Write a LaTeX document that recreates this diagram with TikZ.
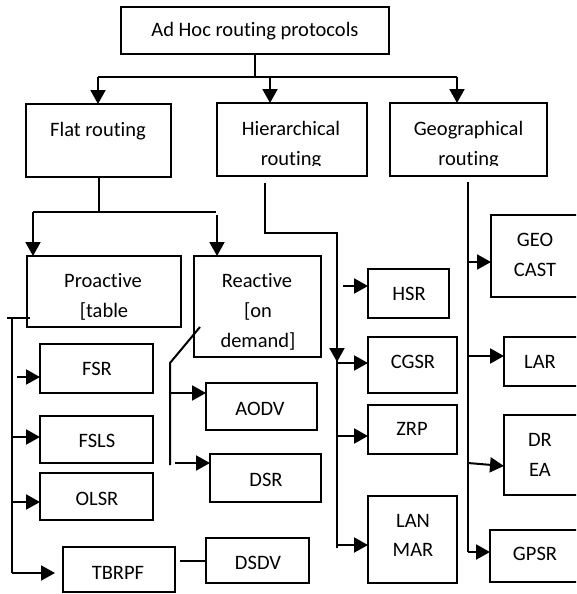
\documentclass[tikz,border=0pt]{standalone}
\usepackage{fontspec}
\setmainfont{Carlito}[Ligatures=NoCommon]
\usetikzlibrary{arrows.meta}
\begin{document}
\begin{tikzpicture}[x=1pt,y=-1pt,
  box/.style={draw,line width=1.8pt,inner sep=0pt,outer sep=0pt},
  lbl/.style={anchor=base,inner sep=0pt,font=\fontsize{20.5pt}{30pt}\selectfont},
  ln/.style={line width=2pt},
  arr/.style={line width=2pt,-{Triangle[length=14pt,width=15pt]}}]
\useasboundingbox (0,0) rectangle (576,594);
\clip (0,0) rectangle (576,594);
\fill[white] (0,0) rectangle (576,594);
% boxes
\node[box,minimum width=268pt,minimum height=47pt] (top) at (255,30.5) {};
\node[box,minimum width=145pt,minimum height=73pt] (flat) at (98.5,140.5) {};
\node[box,minimum width=150pt,minimum height=73pt] (hier) at (292,139.5) {};
\node[box,minimum width=157pt,minimum height=73pt] (geo) at (468.5,139.5) {};
\node[box,minimum width=154pt,minimum height=71pt] (pro) at (104,291.5) {};
\node[box,minimum width=127pt,minimum height=101pt] (rea) at (257.5,306.5) {};
\node[box,minimum width=113pt,minimum height=49pt] (fsr) at (96.5,368.5) {};
\node[box,minimum width=113pt,minimum height=47pt] (fsls) at (96.5,439.5) {};
\node[box,minimum width=113pt,minimum height=47pt] (olsr) at (96.5,496.5) {};
\node[box,minimum width=112pt,minimum height=45pt] (tbrpf) at (119,569.5) {};
\node[box,minimum width=103pt,minimum height=45pt] (dsdv) at (257.5,560.5) {};
\node[box,minimum width=111pt,minimum height=47pt] (aodv) at (261.5,406.5) {};
\node[box,minimum width=111pt,minimum height=48pt] (dsr) at (265.5,478) {};
\node[box,minimum width=81pt,minimum height=49pt] (hsr) at (408.5,293.5) {};
\node[box,minimum width=89pt,minimum height=56pt] (cgsr) at (412.5,365) {};
\node[box,minimum width=89pt,minimum height=49pt] (zrp) at (412.5,429.5) {};
\node[box,minimum width=89pt,minimum height=87pt] (lanmar) at (412.5,539.5) {};
\node[box,minimum width=99pt,minimum height=82pt] (geocast) at (540.5,256) {};
\node[box,minimum width=86pt,minimum height=49pt] (lar) at (547,361.5) {};
\node[box,minimum width=86pt,minimum height=80pt] (drea) at (547,455) {};
\node[box,minimum width=100pt,minimum height=52pt] (gpsr) at (540,556) {};
% labels
\node[lbl] (t-top) at (255,37) {Ad Hoc routing protocols};
\node[lbl] (t-flat) at (98,136) {Flat routing};
\node[lbl] (t-hier1) at (291,135) {Hierarchical};
\node[lbl] (t-geo1) at (468.5,135) {Geographical};
\begin{scope}
\clip (200,140) rectangle (560,165);
\node[lbl] (t-hier2) at (291,165) {routing};
\node[lbl] (t-geo2) at (468.5,165) {routing};
\end{scope}
\node[lbl] (t-pro1) at (103,287) {Proactive};
\node[lbl] (t-pro2) at (104,317) {[table};
\node[lbl] (t-rea1) at (257,287) {Reactive};
\node[lbl] (t-rea2) at (258,317) {[on};
\node[lbl] (t-rea3) at (258,347) {demand]};
\node[lbl] (t-fsr) at (97,375) {FSR};
\node[lbl] (t-fsls) at (97,447) {FSLS};
\node[lbl] (t-olsr) at (97,505) {OLSR};
\node[lbl] (t-tbrpf) at (118,579) {TBRPF};
\node[lbl] (t-dsdv) at (258,569) {DSDV};
\node[lbl] (t-aodv) at (260,415) {AODV};
\node[lbl] (t-dsr) at (266,486) {DSR};
\node[lbl] (t-hsr) at (409,300) {HSR};
\node[lbl] (t-cgsr) at (413,368) {CGSR};
\node[lbl] (t-zrp) at (412,435) {ZRP};
\node[lbl] (t-lan) at (413,527) {LAN};
\node[lbl] (t-mar) at (413,556) {MAR};
\node[lbl] (t-geo) at (535,246) {GEO};
\node[lbl] (t-cast) at (535,276) {CAST};
\node[lbl] (t-lar) at (540,368) {LAR};
\node[lbl] (t-dr) at (540,446) {DR};
\node[lbl] (t-ea) at (540,476) {EA};
\node[lbl] (t-gpsr) at (535,560) {GPSR};
% top level connectors
\coordinate (jL) at (98,77);
\coordinate (jM) at (270,77);
\coordinate (jR) at (457,77);
\draw[ln] (top.south) -- (top.south |- jL);
\draw[ln] (jL) -- (jR);
\draw[arr] (jL) -- (jL |- flat.north);
\draw[arr] (jM) -- (jM |- hier.north);
\draw[arr] (jR) -- (jR |- geo.north);
% flat routing
\coordinate (f1) at (33,212);
\coordinate (f2) at (216,212);
\coordinate (f3) at (217,215);
\draw[ln] (flat.south) -- (flat.south |- f1);
\draw[ln] (f1) -- (f2);
\draw[arr] (f1) -- (f1 |- pro.north);
\draw[arr] (f3) -- (f3 |- rea.north);
% proactive
\coordinate (p0) at (7,318);
\coordinate (p1) at (30,318);
\coordinate (pv) at (12,318);
\coordinate (pb) at (12,573);
\coordinate (a-fsr) at (17,377);
\coordinate (a-fsls) at (12,437);
\coordinate (a-olsr) at (12,502);
\draw[ln] (p0) -- (p1);
\draw[ln] (pv) -- (pb);
\draw[arr,shorten >=8pt] (pb) -- (pb -| tbrpf.west);
\draw[arr] (a-fsr) -- (a-fsr -| fsr.west);
\draw[arr] (a-fsls) -- (a-fsls -| fsls.west);
\draw[arr] (a-olsr) -- (a-olsr -| olsr.west);
\draw[ln,shorten <=5pt] (tbrpf.east |- dsdv.west) -- (dsdv.west);
% reactive
\coordinate (r0) at (200,327);
\coordinate (r1) at (170,363);
\coordinate (r2) at (170,465);
\coordinate (a-aodv) at (170,393);
\coordinate (a-dsr) at (175,463);
\draw[ln] (r0) -- (r1) -- (r2);
\draw[arr] (a-aodv) -- (a-aodv -| aodv.west);
\draw[arr] (a-dsr) -- (a-dsr -| dsr.west);
% hierarchical
\coordinate (h0) at (265,183);
\coordinate (h1) at (265,233);
\coordinate (h2) at (337,233);
\coordinate (h3) at (337,362);
\coordinate (h4) at (337,548);
\coordinate (a-hsr) at (343,286);
\coordinate (a-cgsr) at (337,363);
\coordinate (a-zrp) at (337,436);
\coordinate (a-lan) at (337,545);
\draw[ln] (h0) -- (h1) -- (h2) -- (h4);
\draw[arr] (h2) -- (h3);
\draw[arr] (a-hsr) -- (a-hsr -| hsr.west);
\draw[arr] (a-cgsr) -- (a-cgsr -| cgsr.west);
\draw[arr] (a-zrp) -- (a-zrp -| zrp.west);
\draw[arr] (a-lan) -- (a-lan -| lanmar.west);
% geographical
\coordinate (g0) at (468,182);
\coordinate (g1) at (468,552);
\coordinate (a-gc) at (468,262);
\coordinate (a-lar) at (468,356);
\coordinate (a-dr) at (468,463);
\coordinate (a-dr2) at (504,466);
\draw[ln] (g0) -- (g1);
\draw[arr] (g1) -- (g1 -| gpsr.west);
\draw[arr] (a-gc) -- (a-gc -| geocast.west);
\draw[arr] (a-lar) -- (a-lar -| lar.west);
\draw[arr] (a-dr) -- (a-dr2);
\end{tikzpicture}
\end{document}
